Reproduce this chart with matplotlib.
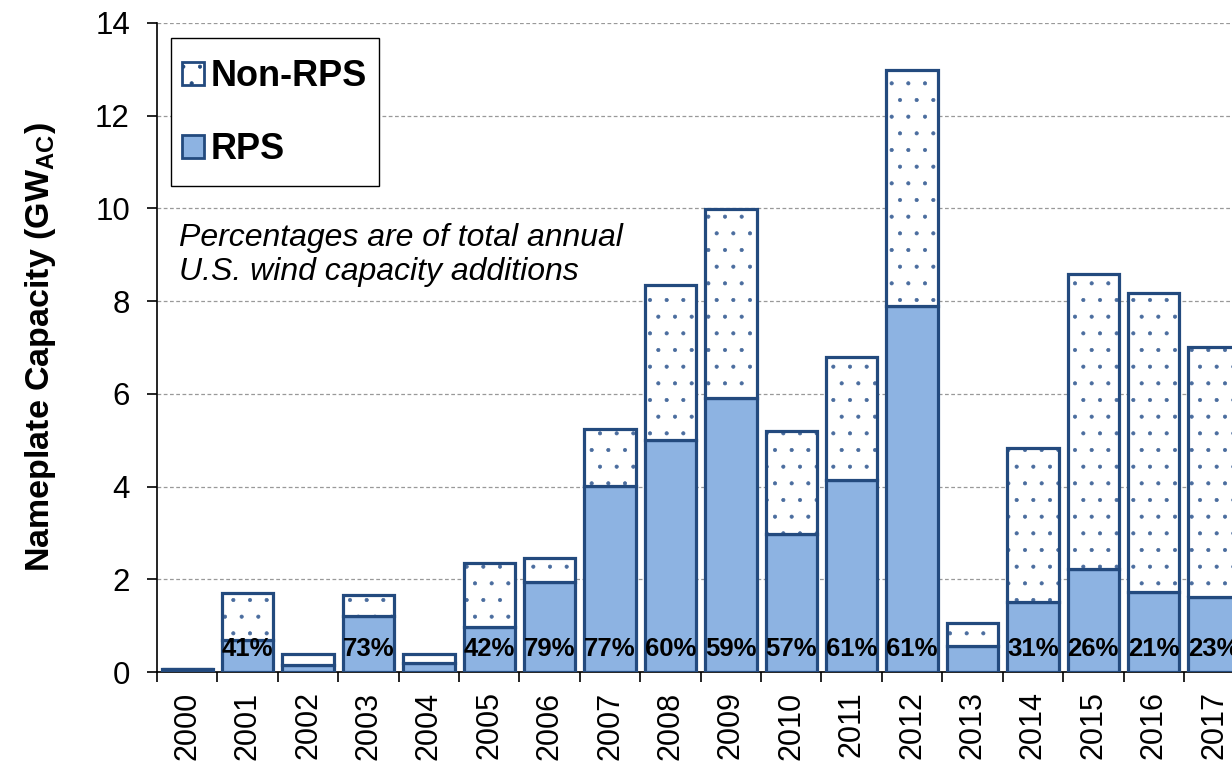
import matplotlib
matplotlib.use("Agg")
import matplotlib.pyplot as plt
from matplotlib.patches import Patch, Rectangle
import numpy as np

years = [str(y) for y in range(2000, 2018)]
rps = [0.07, 0.70, 0.15, 1.21, 0.20, 0.98, 1.94, 4.02, 5.00, 5.90, 2.97, 4.14, 7.90, 0.56, 1.50, 2.23, 1.73, 1.62]
total = [0.07, 1.70, 0.39, 1.66, 0.39, 2.35, 2.46, 5.24, 8.35, 9.99, 5.20, 6.79, 12.99, 1.06, 4.83, 8.59, 8.18, 7.01]
non_rps = [t - r for t, r in zip(total, rps)]
pct_labels = [None, "41%", None, "73%", None, "42%", "79%", "77%", "60%", "59%",
              "57%", "61%", "61%", None, "31%", "26%", "21%", "23%"]

plt.rcParams['font.family'] = ['Liberation Sans', 'DejaVu Sans']
plt.rcParams['mathtext.fontset'] = 'custom'
plt.rcParams['mathtext.rm'] = 'Liberation Sans'
plt.rcParams['mathtext.bf'] = 'Liberation Sans:bold'
plt.rcParams['hatch.linewidth'] = 0.5

navy = '#234A7E'
dotc = '#4A6C9E'
fill = '#8DB3E2'

fig = plt.figure(figsize=(12.32, 7.67), dpi=100)
ax = fig.add_axes([157/1232, 1 - 672/767, 1 - 157/1232 + 0.01, (672 - 23)/767])

x = np.arange(len(years))
w = 0.85
ax.bar(x, rps, width=w, color=fill, edgecolor=navy, linewidth=2.3, zorder=3)
ax.bar(x, non_rps, width=w, bottom=rps, color='white', edgecolor=dotc,
       linewidth=0, hatch='.', zorder=3)
ax.bar(x, non_rps, width=w, bottom=rps, fill=False, edgecolor=navy,
       linewidth=2.3, zorder=3.1)

for xi, lab in zip(x, pct_labels):
    if lab:
        ax.text(xi, 0.5, lab, ha='center', va='center', fontsize=18.5,
                fontweight='bold', zorder=5)

ax.set_ylim(0, 14)
ax.set_xlim(-0.5, 17.33)
ax.set_yticks(np.arange(0, 15, 2))
ax.yaxis.grid(True, linestyle=(0, (3, 2)), color='#999999', linewidth=0.9, zorder=0)
ax.set_axisbelow(True)

ax.set_xticks(x)
ax.set_xticklabels(years, rotation=90, fontsize=22)
ax.set_xticks(np.arange(-0.5, 18, 1), minor=True)
ax.tick_params(axis='x', which='major', length=0, pad=14)
ax.tick_params(axis='x', which='minor', length=7.5, width=1.2, direction='out')
ax.tick_params(axis='y', labelsize=22.5, length=7.5, width=1.2, direction='out', pad=12)

for s in ['top', 'right']:
    ax.spines[s].set_visible(False)
ax.spines['left'].set_linewidth(1.2)
ax.spines['bottom'].set_linewidth(1.2)

ax.set_ylabel(r'Nameplate Capacity (GW$_{\mathbf{AC}}$)', fontsize=24.5,
              fontweight='bold', labelpad=27)

frame = Rectangle((171/1232, 1 - 186/767), (379 - 171)/1232, (186 - 38)/767,
                  transform=fig.transFigure, facecolor='white', edgecolor='black',
                  linewidth=1.0, zorder=4, clip_on=False)
ax.add_patch(frame)

handles = [Patch(facecolor='white', edgecolor=navy, hatch='.', linewidth=2.0),
           Patch(facecolor=fill, edgecolor=navy, linewidth=2.0)]
leg = ax.legend(handles, ['Non-RPS', 'RPS'], loc='upper left',
                bbox_to_anchor=(171/1232, 1 - 48/767), bbox_transform=fig.transFigure,
                borderaxespad=0, prop={'size': 26, 'weight': 'bold'},
                handlelength=0.6, handleheight=0.6, handletextpad=0.2,
                labelspacing=1.07, borderpad=0.3, frameon=False)
leg.set_zorder(6)

ax.text(0.02, 9.0, 'Percentages are of total annual\nU.S. wind capacity additions',
        fontsize=23, style='italic', ha='left', va='center', linespacing=1.15,
        transform=ax.get_yaxis_transform(), zorder=5)

fig.savefig('out.png', dpi=100)
